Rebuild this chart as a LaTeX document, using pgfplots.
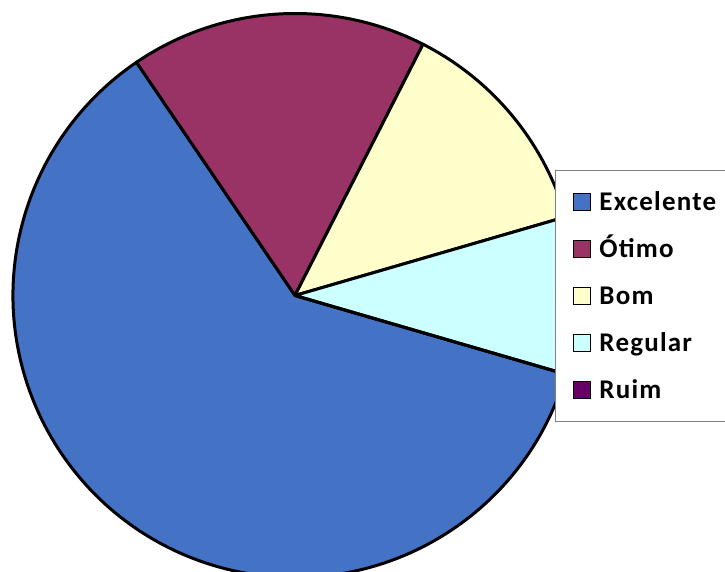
\documentclass[border=0pt]{standalone}
\usepackage{pgfplots}
\pgfplotsset{compat=1.18}
\usepackage{fontspec}
\setmainfont{Carlito}
\definecolor{cExc}{HTML}{4472C4}
\definecolor{cOti}{HTML}{993366}
\definecolor{cBom}{HTML}{FFFFCC}
\definecolor{cReg}{HTML}{CCFFFF}
\definecolor{cRui}{HTML}{660066}
\begin{document}
\begin{tikzpicture}
\begin{axis}[
  scale only axis, width=362.5pt, height=286pt,
  xmin=0, xmax=725, ymin=0, ymax=572,
  hide axis, clip=true,
  legend cell align=left,
  legend image code/.code={\draw[#1,draw=black,line width=0.5pt] (0pt,-4.25pt) rectangle (8.5pt,4.25pt);},
  legend style={at={(axis cs:555,402)}, anchor=north west,
    draw=gray, line width=0.5pt, fill=white,
    inner xsep=9pt, inner ysep=4.1pt, row sep=0pt, column sep=4pt,
    font=\fontsize{13.5}{16}\selectfont\bfseries\addfontfeature{LetterSpace=4.5},
    nodes={inner sep=0pt, text height=15.95pt, text depth=7.55pt}},
]
\addlegendimage{fill=cExc}\addlegendentry{Excelente}
\addlegendimage{fill=cOti}\addlegendentry{Ótimo}
\addlegendimage{fill=cBom}\addlegendentry{Bom}
\addlegendimage{fill=cReg}\addlegendentry{Regular}
\addlegendimage{fill=cRui}\addlegendentry{Ruim}
\pgfplotsextra{
  \foreach \v/\c [remember=\b as \a (initially -16.2)] in {61/cExc,17/cOti,13/cBom,9/cReg,0/cRui} {
    \pgfmathsetmacro{\b}{\a-3.6*\v}
    \filldraw[fill=\c, draw=black, line width=1.5pt, line join=round]
      (axis cs:295,276.5) -- ++(\a:141pt) arc[start angle=\a, end angle=\b, radius=141pt] -- cycle;
  }
}
\end{axis}
\pgfresetboundingbox
\useasboundingbox (current axis.south west) rectangle (current axis.north east);
\end{tikzpicture}
\end{document}
